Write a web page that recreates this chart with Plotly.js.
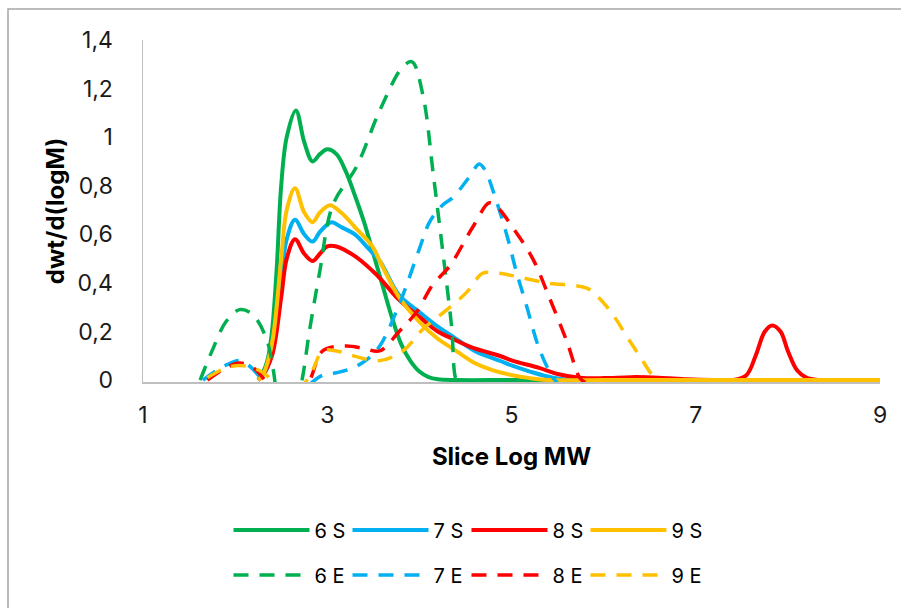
<!DOCTYPE html>
<html>
<head>
<meta charset="utf-8">
<script src="https://cdn.plot.ly/plotly-3.0.1.min.js"></script>
<style>html,body{margin:0;padding:0;background:#fff;}#chart{width:901px;height:608px;}</style>
</head>
<body>
<div id="chart"></div>
<script>
// ---- data ----
const seriesNames = ["6 S", "7 S", "8 S", "9 S", "6 E", "7 E", "8 E", "9 E"];

const x6S = [2.25,2.3,2.35,2.4,2.45,2.5,2.56,2.66,2.75,2.84,2.92,3.0,3.1,3.2,3.3,3.4,3.5,3.6,3.7,3.8,3.9,4.0,4.1,4.2,4.4,5,6,7,8,9];
const y6S = [0,0.03,0.08,0.2,0.45,0.8,1.0,1.11,0.98,0.9,0.93,0.95,0.93,0.86,0.76,0.65,0.52,0.39,0.26,0.15,0.08,0.035,0.012,0.003,0,0,0,0,0,0];

const x7S = [2.25,2.3,2.35,2.4,2.45,2.5,2.56,2.65,2.75,2.84,2.92,3.0,3.05,3.15,3.3,3.45,3.57,3.78,4.0,4.2,4.36,4.6,4.87,5.0,5.2,5.45,5.7,6,7,8,9];
const y7S = [0,0.02,0.05,0.13,0.25,0.42,0.58,0.66,0.6,0.57,0.61,0.64,0.65,0.63,0.6,0.54,0.49,0.35,0.28,0.22,0.18,0.12,0.08,0.06,0.035,0.01,0,0,0,0,0];

const x8S = [2.25,2.3,2.4,2.5,2.56,2.65,2.75,2.84,2.92,3.0,3.1,3.3,3.49,3.57,3.78,4.0,4.2,4.36,4.6,4.87,5.01,5.3,5.5,5.74,6.0,6.3,6.6,6.9,7.2,7.4,7.55,7.65,7.75,7.83,7.92,8.0,8.1,8.2,8.35,9];
const y8S = [0,0.02,0.1,0.34,0.5,0.58,0.52,0.49,0.52,0.55,0.55,0.51,0.45,0.42,0.33,0.26,0.2,0.17,0.13,0.1,0.08,0.05,0.025,0.01,0.008,0.012,0.01,0.003,0,0,0.02,0.1,0.2,0.225,0.2,0.12,0.04,0.01,0,0];

const x9S = [2.25,2.3,2.4,2.5,2.56,2.65,2.75,2.84,2.92,3.03,3.15,3.3,3.49,3.57,3.78,4.0,4.2,4.36,4.6,4.8,5.01,5.2,5.4,6,7,8,9];
const y9S = [0,0.02,0.15,0.5,0.7,0.79,0.69,0.65,0.69,0.72,0.69,0.63,0.55,0.49,0.34,0.24,0.17,0.13,0.07,0.04,0.02,0.008,0,0,0,0,0];

const x6E = [1.62,1.75,1.9,2.05,2.19,2.34,2.41,2.48,2.6,2.7,2.81,2.92,3.06,3.32,3.57,3.82,3.92,4.04,4.15,4.26,4.35,4.4,4.45];
const y6E = [0,0.12,0.24,0.29,0.27,0.17,0.05,-0.08,-0.12,-0.04,0.21,0.45,0.72,0.88,1.11,1.29,1.31,1.17,0.85,0.51,0.22,0,-0.02];

const x7E = [1.65,1.8,1.95,2.05,2.15,2.25,2.35,2.5,2.7,2.8,2.95,3.1,3.28,3.45,3.57,3.78,4.0,4.11,4.25,4.36,4.47,4.55,4.65,4.72,4.79,4.94,5.05,5.16,5.3,5.45,5.5];
const y7E = [0,0.04,0.07,0.08,0.06,0.02,-0.04,-0.06,-0.05,-0.02,0.02,0.03,0.05,0.09,0.14,0.31,0.54,0.65,0.72,0.75,0.8,0.84,0.89,0.86,0.79,0.61,0.45,0.31,0.13,0.01,-0.01];

const x8E = [1.7,1.9,2.05,2.2,2.3,2.4,2.55,2.7,2.81,2.95,3.2,3.4,3.57,3.78,3.97,4.14,4.33,4.58,4.76,4.85,5.01,5.23,5.41,5.6,5.74,5.8];
const y8E = [0,0.05,0.07,0.05,0.01,-0.04,-0.07,-0.05,0,0.12,0.14,0.13,0.12,0.2,0.28,0.39,0.47,0.63,0.73,0.71,0.63,0.5,0.34,0.16,0.01,-0.01];

const x9E = [1.7,1.9,2.05,2.2,2.34,2.45,2.6,2.72,2.84,2.95,3.1,3.28,3.57,3.82,4.04,4.3,4.51,4.69,4.85,5.01,5.38,5.81,5.92,6.1,6.25,6.39,6.53,6.6];
const y9E = [0.01,0.05,0.06,0.05,0.02,-0.03,-0.06,-0.03,0.04,0.12,0.12,0.1,0.08,0.12,0.21,0.29,0.36,0.44,0.44,0.43,0.4,0.38,0.35,0.27,0.18,0.1,0.02,0];

const xTicks = [1, 3, 5, 7, 9];
const yTicks = [0, 0.2, 0.4, 0.6, 0.8, 1, 1.2, 1.4];

// ---- styling ----
const colors = ["#00B050", "#00B0F0", "#FF0000", "#FFC000"];
const xs = [x6S, x7S, x8S, x9S, x6E, x7E, x8E, x9E];
const ys = [y6S, y7S, y8S, y9S, y6E, y7E, y8E, y9E];
const FONT = "Inter, 'Liberation Sans', Arial, sans-serif";

const traces = seriesNames.map((name, i) => {
  const dashed = i >= 4;
  return {
    type: "scatter",
    mode: "lines",
    name: name,
    x: xs[i],
    y: ys[i],
    legend: dashed ? "legend2" : "legend",
    line: {
      color: colors[i % 4],
      width: dashed ? 3.5 : 4,
      shape: "spline",
      smoothing: 1,
      dash: dashed ? "15px,11px" : "solid"
    },
    hoverinfo: "skip"
  };
});

const legendCommon = {
  orientation: "h",
  xanchor: "left",
  x: 0.116,
  yanchor: "middle",
  font: { family: FONT, size: 20, color: "#000" },
  itemwidth: 76,
  entrywidth: 28,
  bgcolor: "rgba(0,0,0,0)",
  borderwidth: 0,
  tracegroupgap: 0
};

const layout = {
  width: 901,
  height: 608,
  margin: { l: 143, r: 21, t: 40, b: 226, pad: 0 },
  paper_bgcolor: "#fff",
  plot_bgcolor: "#fff",
  separators: ",.",
  font: { family: FONT, color: "#1a1a1a" },
  showlegend: true,
  xaxis: {
    range: [1, 9],
    tickvals: xTicks,
    ticktext: xTicks.map(String),
    showgrid: false,
    zeroline: false,
    showline: true,
    linecolor: "#bfbfbf",
    linewidth: 1.5,
    ticks: "",
    ticklabelstandoff: 12,
    tickfont: { family: FONT, size: 23, color: "#1a1a1a" },
    layer: "below traces",
    title: { text: "Slice Log MW", font: { family: FONT, size: 24, weight: "bold", color: "#000" }, standoff: 20 }
  },
  yaxis: {
    range: [-0.008, 1.4],
    tickvals: yTicks,
    showgrid: false,
    zeroline: false,
    showline: true,
    linecolor: "#bfbfbf",
    linewidth: 1.5,
    ticks: "",
    ticklabelstandoff: 24,
    tickfont: { family: FONT, size: 23, color: "#1a1a1a" },
    layer: "below traces",
    title: { text: "dwt/d(logM)", font: { family: FONT, size: 24, weight: "bold", color: "#000" }, standoff: 6 }
  },
  legend: Object.assign({}, legendCommon, { y: -0.433 }),
  legend2: Object.assign({}, legendCommon, { y: -0.564 }),
  shapes: [{
    type: "rect", xref: "paper", yref: "paper",
    x0: (8 - 143) / 737, x1: 1.2, y0: (382 - 9) / 342, y1: -1.0,
    line: { color: "#a6a6a6", width: 1.5 }, fillcolor: "rgba(0,0,0,0)", layer: "below"
  }]
};

Plotly.newPlot("chart", traces, layout, { staticPlot: true, displayModeBar: false });
</script>
</body>
</html>
